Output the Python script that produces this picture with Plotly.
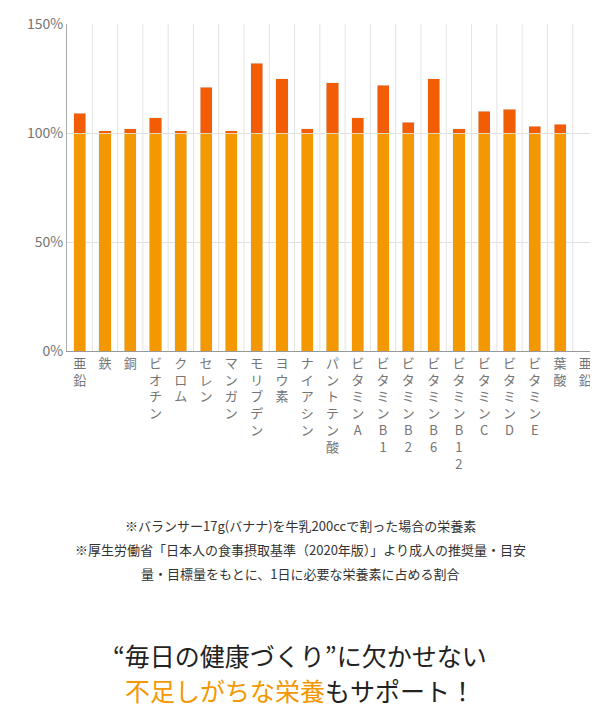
import plotly.graph_objects as go

names = ["亜鉛", "鉄", "銅", "ビオチン", "クロム", "セレン", "マンガン", "モリブデン", "ヨウ素",
         "ナイアシン", "パントテン酸", "ビタミンA", "ビタミンB1", "ビタミンB2", "ビタミンB6",
         "ビタミンB12", "ビタミンC", "ビタミンD", "ビタミンE", "葉酸", "亜鉛 "]
totals = [109, 101, 102, 107, 101, 121, 101, 132, 125, 102, 123, 107, 122, 105, 125,
          102, 110, 111, 103, 104, None]

base = [100 if t is not None else None for t in totals]
extra = [t - 100 if t is not None else None for t in totals]
ticks = ["<br>".join(n.strip()) for n in names]

fig = go.Figure()
fig.add_trace(go.Bar(x=names, y=base, marker_color="#F39800", width=0.48))
fig.add_trace(go.Bar(x=names, y=extra, marker_color="#F25C05", width=0.48))

# page has ~8px body margin, so shift everything up/left by that
fig.update_layout(
    barmode="stack", width=590, height=704, showlegend=False,
    plot_bgcolor="white", paper_bgcolor="white",
    margin=dict(l=59, r=0, t=16, b=361),
    font=dict(family="Noto Sans CJK JP", color="#757575"),
)
fig.update_xaxes(tickmode="array", tickvals=names, ticktext=ticks, tickangle=0,
                 range=[-0.5, 20.5], tickfont=dict(size=13), showgrid=False,
                 showline=True, linecolor="#999", ticks="")
for i in range(len(names)):
    fig.add_shape(type="line", xref="x", yref="paper", x0=i + 0.5, x1=i + 0.5,
                  y0=0, y1=1, line=dict(color="#e3e3e3", width=1), layer="below")
fig.update_yaxes(range=[0, 150], tickvals=[0, 50, 100, 150],
                 ticktext=["0%", "50%", "100%", "150%"], tickfont=dict(size=14),
                 gridcolor="#e0e0e0", showline=True, linecolor="#aaa", zeroline=False)

notes = ["※バランサー17g(バナナ)を牛乳200ccで割った場合の栄養素",
         "※厚生労働省「日本人の食事摂取基準（2020年版）」より成人の推奨量・目安",
         "量・目標量をもとに、1日に必要な栄養素に占める割合"]
for k, s in enumerate(notes):
    fig.add_annotation(text=s, x=0.5, xanchor="center", y=525 + 24 * k,
                       showarrow=False, font=dict(size=13, color="#333"))
fig.add_annotation(text="“毎日の健康づくり”に欠かせない", x=0.5, xanchor="center",
                   y=655, showarrow=False, font=dict(size=25, color="#222"))
fig.add_annotation(text="<span style='color:#F39800'>不足しがちな栄養</span>もサポート！",
                   x=0.5, xanchor="center", y=690, showarrow=False,
                   font=dict(size=25, color="#222"))

# reference pixel y -> paper coords (plot spans y 24..351 in the reference)
for a in fig.layout.annotations:
    a.xref = "paper"
    a.yref = "paper"
    a.x = (300 - 8 - 59) / 531
    a.y = (351 - a.y) / (351 - 24)
    a.yanchor = "middle"

fig.write_html("out.html")
